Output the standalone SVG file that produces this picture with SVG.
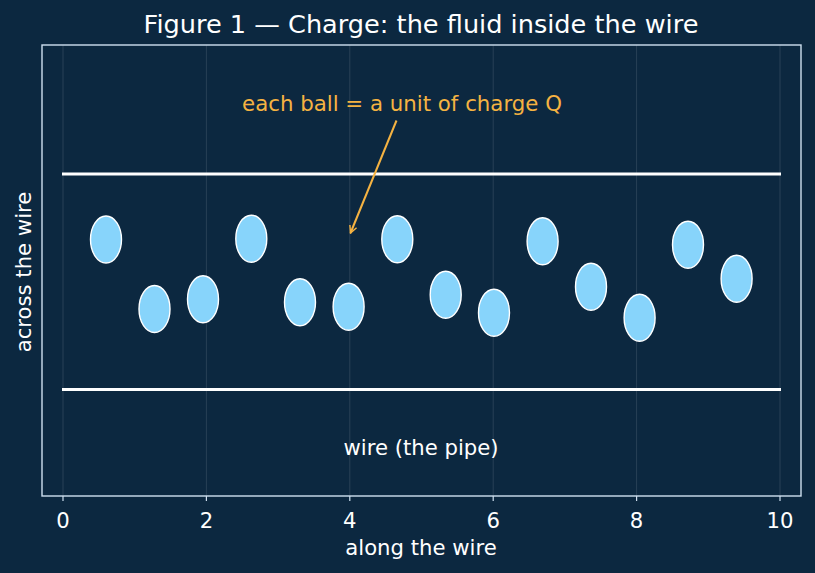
<svg xmlns="http://www.w3.org/2000/svg" width="815" height="573" viewBox="0 0 815 573">
<defs>
<style>
text{font-family:"DejaVu Sans","Liberation Sans",sans-serif;}
.grid{stroke:#ffffff;stroke-opacity:0.15;stroke-width:0.8}
.tick{stroke:#cfe0f0;stroke-width:1.2}
.tl{fill:#ffffff;font-size:21.2px;text-anchor:middle}
.ball{fill:#87d4fb;stroke:#ffffff;stroke-width:1.4}
.wire{stroke:#ffffff;stroke-width:3}
</style>
<marker id="ah" viewBox="0 0 10 10" refX="9" refY="5" markerWidth="9" markerHeight="9" orient="auto" markerUnits="userSpaceOnUse">
<path d="M1,1 L9,5 L1,9" fill="none" stroke="#f5b342" stroke-width="1.6"/>
</marker>
</defs>
<rect width="815" height="573" fill="#0c2840"/>
<text x="421" y="33.3" fill="#ffffff" font-size="25.6" text-anchor="middle">Figure 1 — Charge: the fluid inside the wire</text>
<g id="grid">
<line class="grid" x1="63" y1="45" x2="63" y2="496"/>
<line class="grid" x1="206.4" y1="45" x2="206.4" y2="496"/>
<line class="grid" x1="349.8" y1="45" x2="349.8" y2="496"/>
<line class="grid" x1="493.2" y1="45" x2="493.2" y2="496"/>
<line class="grid" x1="636.6" y1="45" x2="636.6" y2="496"/>
<line class="grid" x1="780" y1="45" x2="780" y2="496"/>
</g>
<g id="wire-walls">
<line class="wire" x1="62" y1="174" x2="781" y2="174"/>
<line class="wire" x1="62" y1="389.5" x2="781" y2="389.5"/>
</g>
<g id="balls">
<ellipse class="ball" cx="106" cy="239.5" rx="15.5" ry="23.5"/>
<ellipse class="ball" cx="154.5" cy="309" rx="15.5" ry="23.5"/>
<ellipse class="ball" cx="203" cy="299.3" rx="15.5" ry="23.5"/>
<ellipse class="ball" cx="251.3" cy="238.7" rx="15.5" ry="23.5"/>
<ellipse class="ball" cx="300" cy="302.3" rx="15.5" ry="23.5"/>
<ellipse class="ball" cx="348.6" cy="306.7" rx="15.5" ry="23.5"/>
<ellipse class="ball" cx="397.3" cy="239.3" rx="15.5" ry="23.5"/>
<ellipse class="ball" cx="445.7" cy="294.7" rx="15.5" ry="23.5"/>
<ellipse class="ball" cx="494" cy="312.7" rx="15.5" ry="23.5"/>
<ellipse class="ball" cx="542.6" cy="241.3" rx="15.5" ry="23.5"/>
<ellipse class="ball" cx="591" cy="286.7" rx="15.5" ry="23.5"/>
<ellipse class="ball" cx="639.6" cy="317.7" rx="15.5" ry="23.5"/>
<ellipse class="ball" cx="688" cy="244.7" rx="15.5" ry="23.5"/>
<ellipse class="ball" cx="736.6" cy="278.7" rx="15.5" ry="23.5"/>
</g>
<g id="connectors">
<line x1="396.5" y1="120.5" x2="350.5" y2="233" stroke="#f5b342" stroke-width="2" marker-end="url(#ah)"/>
</g>
<g id="annotation">
<text x="402" y="111" fill="#f5b342" font-size="21.3" text-anchor="middle">each ball = a unit of charge Q</text>
</g>
<g id="pipe-label">
<text x="421" y="455" fill="#ffffff" font-size="21.2" text-anchor="middle">wire (the pipe)</text>
</g>
<rect x="42" y="45" width="759" height="451" fill="none" stroke="#cfe0f0" stroke-width="1.4"/>
<g id="ticks">
<line class="tick" x1="63" y1="496" x2="63" y2="501"/>
<line class="tick" x1="206.4" y1="496" x2="206.4" y2="501"/>
<line class="tick" x1="349.8" y1="496" x2="349.8" y2="501"/>
<line class="tick" x1="493.2" y1="496" x2="493.2" y2="501"/>
<line class="tick" x1="636.6" y1="496" x2="636.6" y2="501"/>
<line class="tick" x1="780" y1="496" x2="780" y2="501"/>
<text class="tl" x="63" y="528">0</text>
<text class="tl" x="206.4" y="528">2</text>
<text class="tl" x="349.8" y="528">4</text>
<text class="tl" x="493.2" y="528">6</text>
<text class="tl" x="636.6" y="528">8</text>
<text class="tl" x="780" y="528">10</text>
</g>
<text x="421" y="555" fill="#ffffff" font-size="21.2" text-anchor="middle">along the wire</text>
<text x="0" y="0" fill="#ffffff" font-size="21.2" text-anchor="middle" transform="translate(31,272) rotate(-90)">across the wire</text>
</svg>
